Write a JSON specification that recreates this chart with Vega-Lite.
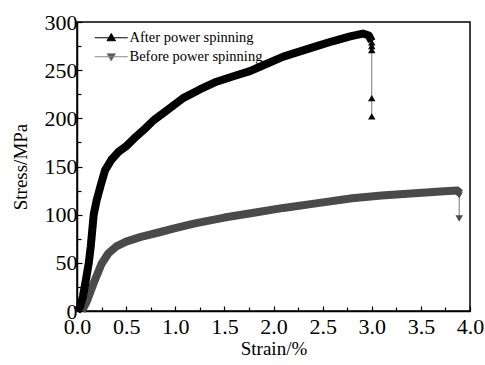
{
  "$schema": "https://vega.github.io/schema/vega-lite/v6.json",
  "width": 393,
  "height": 289,
  "autosize": {"type": "none"},
  "padding": {"left": 77, "top": 22, "right": 15, "bottom": 54},
  "background": "white",
  "config": {
    "view": {"stroke": "black", "strokeWidth": 1.5},
    "font": "Liberation Serif",
    "axis": {"labelFont": "Liberation Serif", "titleFont": "Liberation Serif", "labelColor": "black", "titleColor": "black", "titleFontWeight": "normal", "grid": false, "domainColor": "black", "tickColor": "black"},
    "legend": {"labelFont": "Liberation Serif", "labelFontSize": 14.5, "labelColor": "black"}
  },
  "data": {"values": [
    {"series": "After power spinning", "part": "curve", "strain": 0.0, "stress": 0},
    {"series": "After power spinning", "part": "curve", "strain": 0.03, "stress": 4},
    {"series": "After power spinning", "part": "curve", "strain": 0.06, "stress": 15},
    {"series": "After power spinning", "part": "curve", "strain": 0.09, "stress": 32},
    {"series": "After power spinning", "part": "curve", "strain": 0.12, "stress": 50},
    {"series": "After power spinning", "part": "curve", "strain": 0.14, "stress": 67},
    {"series": "After power spinning", "part": "curve", "strain": 0.17, "stress": 100},
    {"series": "After power spinning", "part": "curve", "strain": 0.2, "stress": 115},
    {"series": "After power spinning", "part": "curve", "strain": 0.24, "stress": 130},
    {"series": "After power spinning", "part": "curve", "strain": 0.285, "stress": 146},
    {"series": "After power spinning", "part": "curve", "strain": 0.35, "stress": 157},
    {"series": "After power spinning", "part": "curve", "strain": 0.42, "stress": 165},
    {"series": "After power spinning", "part": "curve", "strain": 0.5, "stress": 171},
    {"series": "After power spinning", "part": "curve", "strain": 0.6, "stress": 181},
    {"series": "After power spinning", "part": "curve", "strain": 0.7, "stress": 190},
    {"series": "After power spinning", "part": "curve", "strain": 0.78, "stress": 198},
    {"series": "After power spinning", "part": "curve", "strain": 0.9, "stress": 207},
    {"series": "After power spinning", "part": "curve", "strain": 1.08, "stress": 221},
    {"series": "After power spinning", "part": "curve", "strain": 1.25, "stress": 230},
    {"series": "After power spinning", "part": "curve", "strain": 1.42, "stress": 238},
    {"series": "After power spinning", "part": "curve", "strain": 1.6, "stress": 244},
    {"series": "After power spinning", "part": "curve", "strain": 1.76, "stress": 249},
    {"series": "After power spinning", "part": "curve", "strain": 1.85, "stress": 253},
    {"series": "After power spinning", "part": "curve", "strain": 2.1, "stress": 264},
    {"series": "After power spinning", "part": "curve", "strain": 2.44, "stress": 275},
    {"series": "After power spinning", "part": "curve", "strain": 2.6, "stress": 280},
    {"series": "After power spinning", "part": "curve", "strain": 2.78, "stress": 285},
    {"series": "After power spinning", "part": "curve", "strain": 2.91, "stress": 288},
    {"series": "After power spinning", "part": "curve", "strain": 2.97, "stress": 286},
    {"series": "After power spinning", "part": "curve", "strain": 3.0, "stress": 280},
    {"series": "After power spinning", "part": "drop", "strain": 3.0, "stress": 282},
    {"series": "After power spinning", "part": "drop", "strain": 3.0, "stress": 202},
    {"series": "After power spinning", "part": "mark", "strain": 3.0, "stress": 279},
    {"series": "After power spinning", "part": "mark", "strain": 3.0, "stress": 275},
    {"series": "After power spinning", "part": "mark", "strain": 3.0, "stress": 271},
    {"series": "After power spinning", "part": "mark", "strain": 3.0, "stress": 221},
    {"series": "After power spinning", "part": "mark", "strain": 3.0, "stress": 202},
    {"series": "Before power spinning", "part": "curve", "strain": 0.05, "stress": 0},
    {"series": "Before power spinning", "part": "curve", "strain": 0.1, "stress": 10},
    {"series": "Before power spinning", "part": "curve", "strain": 0.17, "stress": 29},
    {"series": "Before power spinning", "part": "curve", "strain": 0.25, "stress": 49},
    {"series": "Before power spinning", "part": "curve", "strain": 0.32, "stress": 60},
    {"series": "Before power spinning", "part": "curve", "strain": 0.4, "stress": 67},
    {"series": "Before power spinning", "part": "curve", "strain": 0.5, "stress": 72},
    {"series": "Before power spinning", "part": "curve", "strain": 0.65, "stress": 77},
    {"series": "Before power spinning", "part": "curve", "strain": 0.85, "stress": 82},
    {"series": "Before power spinning", "part": "curve", "strain": 1.0, "stress": 86},
    {"series": "Before power spinning", "part": "curve", "strain": 1.2, "stress": 91},
    {"series": "Before power spinning", "part": "curve", "strain": 1.5, "stress": 97},
    {"series": "Before power spinning", "part": "curve", "strain": 1.8, "stress": 102},
    {"series": "Before power spinning", "part": "curve", "strain": 2.1, "stress": 107},
    {"series": "Before power spinning", "part": "curve", "strain": 2.45, "stress": 112},
    {"series": "Before power spinning", "part": "curve", "strain": 2.8, "stress": 117},
    {"series": "Before power spinning", "part": "curve", "strain": 3.1, "stress": 120},
    {"series": "Before power spinning", "part": "curve", "strain": 3.4, "stress": 122},
    {"series": "Before power spinning", "part": "curve", "strain": 3.7, "stress": 124},
    {"series": "Before power spinning", "part": "curve", "strain": 3.87, "stress": 125},
    {"series": "Before power spinning", "part": "curve", "strain": 3.9, "stress": 122},
    {"series": "Before power spinning", "part": "drop", "strain": 3.89, "stress": 122},
    {"series": "Before power spinning", "part": "drop", "strain": 3.89, "stress": 96},
    {"series": "Before power spinning", "part": "mark", "strain": 3.89, "stress": 120},
    {"series": "Before power spinning", "part": "mark", "strain": 3.89, "stress": 96}
  ]},
  "resolve": {"axis": {"x": "independent", "y": "independent"}},
  "layer": [
    {
      "transform": [{"filter": "datum.part == 'curve' && datum.series == 'Before power spinning'"}],
      "mark": {"type": "line", "strokeWidth": 8, "strokeJoin": "round", "strokeCap": "butt", "color": "#4a4a4a"},
      "encoding": {
        "x": {"field": "strain", "type": "quantitative", "scale": {"domain": [0, 4], "nice": false},
          "axis": {"orient": "bottom", "values": [0, 0.5, 1, 1.5, 2, 2.5, 3, 3.5, 4], "format": ".1f", "tickSize": -5, "tickWidth": 1.2, "domainWidth": 1.5, "labelFontSize": 22, "labelPadding": 10, "labelFlush": false, "title": "Strain/%", "titleFontSize": 19, "titlePadding": 2}},
        "y": {"field": "stress", "type": "quantitative", "scale": {"domain": [0, 300], "nice": false},
          "axis": {"orient": "left", "values": [0, 50, 100, 150, 200, 250, 300], "tickSize": -5, "tickWidth": 1.2, "domainWidth": 1.5, "labelFontSize": 22, "labelPadding": 5, "labelFlush": false, "title": "Stress/MPa", "titleFontSize": 19, "titlePadding": 14}}
      }
    },
    {
      "transform": [{"filter": "datum.part == 'curve' && datum.series == 'After power spinning'"}],
      "mark": {"type": "line", "strokeWidth": 8, "strokeJoin": "round", "strokeCap": "butt", "color": "#000000"},
      "encoding": {
        "x": {"field": "strain", "type": "quantitative", "axis": null},
        "y": {"field": "stress", "type": "quantitative", "axis": null}
      }
    },
    {
      "transform": [{"filter": "datum.part == 'drop'"}],
      "mark": {"type": "line", "strokeWidth": 1, "color": "#777777"},
      "encoding": {
        "x": {"field": "strain", "type": "quantitative",
          "axis": {"orient": "bottom", "values": [0.25, 0.75, 1.25, 1.75, 2.25, 2.75, 3.25, 3.75], "labels": false, "domain": false, "tickSize": -4, "tickWidth": 1.2, "title": null}},
        "y": {"field": "stress", "type": "quantitative",
          "axis": {"orient": "left", "values": [25, 75, 125, 175, 225, 275], "labels": false, "domain": false, "tickSize": -4, "tickWidth": 1.2, "title": null}},
        "detail": {"field": "series"},
        "order": {"field": "stress", "sort": "descending"}
      }
    },
    {
      "transform": [{"filter": "datum.part == 'mark' && datum.series == 'After power spinning'"}],
      "mark": {"type": "point", "shape": "triangle-up", "filled": true, "size": 55, "color": "#000000", "opacity": 1},
      "encoding": {
        "x": {"field": "strain", "type": "quantitative", "axis": null},
        "y": {"field": "stress", "type": "quantitative", "axis": null}
      }
    },
    {
      "transform": [{"filter": "datum.part == 'mark' && datum.series == 'Before power spinning'"}],
      "mark": {"type": "point", "shape": "triangle-down", "filled": true, "size": 55, "color": "#4a4a4a", "opacity": 1},
      "encoding": {
        "x": {"field": "strain", "type": "quantitative", "axis": null},
        "y": {"field": "stress", "type": "quantitative", "axis": null}
      }
    },
    {
      "transform": [{"filter": "datum.part == 'mark'"}],
      "mark": {"type": "point", "filled": true, "size": 0, "strokeWidth": 1, "opacity": 1},
      "encoding": {
        "x": {"field": "strain", "type": "quantitative", "axis": null},
        "y": {"field": "stress", "type": "quantitative", "axis": null},
        "shape": {"field": "series", "type": "nominal",
          "scale": {"domain": ["After power spinning", "Before power spinning"], "range": ["M-3.3,0H3.3M0,-0.85L0.85,0.6H-0.85Z", "M-3.3,0H3.3M0,0.85L0.85,-0.6H-0.85Z"]},
          "legend": {"orient": "none", "legendX": 27, "legendY": 8.5, "title": null, "symbolSize": 100, "symbolStrokeWidth": 1, "symbolOpacity": 1, "labelOffset": 11, "rowPadding": 4, "padding": 0}},
        "fill": {"field": "series", "type": "nominal",
          "scale": {"domain": ["After power spinning", "Before power spinning"], "range": ["#000000", "#555555"]},
          "legend": {"orient": "none", "legendX": 27, "legendY": 8.5, "title": null, "symbolSize": 100, "symbolStrokeWidth": 1, "symbolOpacity": 1, "labelOffset": 11, "rowPadding": 4, "padding": 0}},
        "stroke": {"field": "series", "type": "nominal",
          "scale": {"domain": ["After power spinning", "Before power spinning"], "range": ["#000000", "#888888"]},
          "legend": {"orient": "none", "legendX": 27, "legendY": 8.5, "title": null, "symbolSize": 100, "symbolStrokeWidth": 1, "symbolOpacity": 1, "labelOffset": 11, "rowPadding": 4, "padding": 0}}
      }
    }
  ]
}
